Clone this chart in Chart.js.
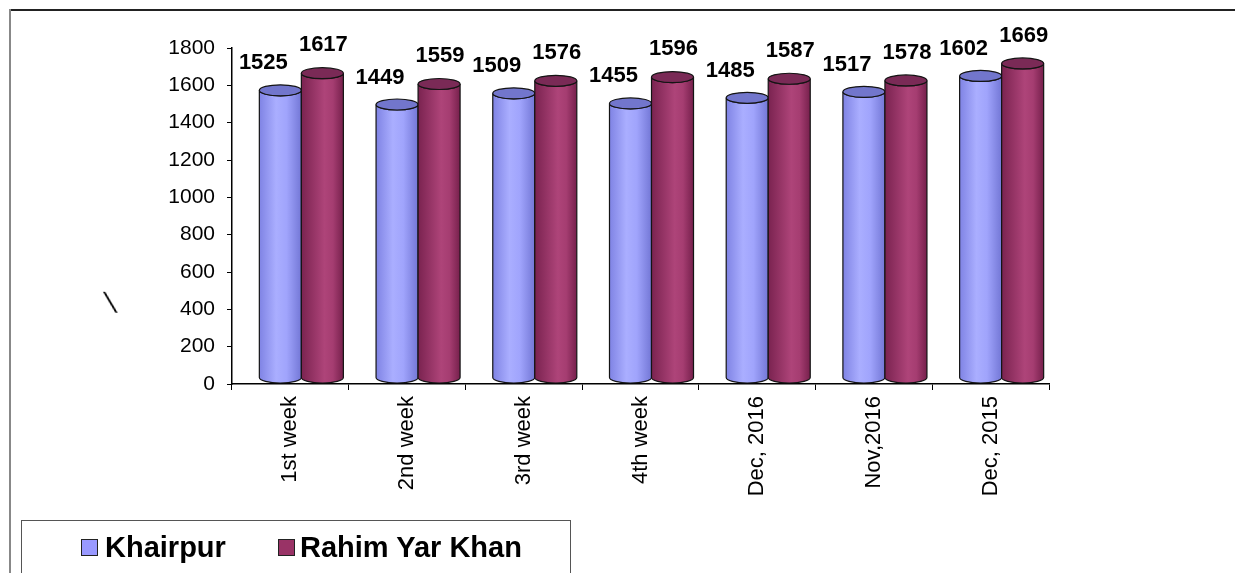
<!DOCTYPE html>
<html>
<head>
<meta charset="utf-8">
<script src="https://cdn.jsdelivr.net/npm/chart.js@4/dist/chart.umd.min.js"></script>
<style>
  html, body { margin: 0; padding: 0; background: #fff; }
  #wrap { position: relative; width: 1235px; height: 573px; overflow: hidden; font-family: "Liberation Sans", Arial, sans-serif; }
  #cnv { position: absolute; left: 0; top: 0; }
  #frameTop { position: absolute; left: 9px; top: 9px; width: 1226px; height: 2px; background: #222; }
  #frameLeft { position: absolute; left: 9px; top: 9px; width: 2px; height: 564px; background: #888; }
  #slash { position: absolute; left: 107px; top: 290px; font-size: 28px; line-height: 28px; transform: skewX(18deg); transform-origin: center center; color: #000; }
  #legend { position: absolute; left: 21px; top: 520px; width: 550px; height: 70px; border: 1px solid #555; box-sizing: border-box; }
  .sw { position: absolute; top: 18px; width: 15px; height: 15px; border: 1.5px solid #222; }
  .lt { position: absolute; top: 9px; font-weight: bold; font-size: 29px; line-height: 34px; color: #000; }
</style>
</head>
<body>
<div id="wrap">
  <canvas id="cnv" width="1235" height="573"></canvas>
  <div id="frameTop"></div>
  <div id="frameLeft"></div>
  <div id="slash">\</div>
  <div id="legend"></div>
</div>
<script>
// chart values
var categories = ['1st week', '2nd week', '3rd week', '4th week', 'Dec, 2016', 'Nov,2016', 'Dec, 2015'];
var khairpur = [1525, 1449, 1509, 1455, 1485, 1517, 1602];
var rahimYarKhan = [1617, 1559, 1576, 1596, 1587, 1578, 1669];
var seriesNames = ['Khairpur', 'Rahim Yar Khan'];
var yMin = 0, yMax = 1800, yStep = 200;

var styles = [
	{
		swatch: '#9999ff',
		stops: [[0, '#7f83e4'], [0.4, '#aaaeff'], [0.65, '#a0a4fc'], [1, '#7377d6']],
		cap: '#7276cc',
		labelDx: -6, labelDy: -36
	},
	{
		swatch: '#993366',
		stops: [[0, '#7a2350'], [0.55, '#ae4479'], [0.75, '#a53d71'], [1, '#76204c']],
		cap: '#7a2a56',
		labelDx: 12, labelDy: -37
	}
];

// depth shift of the 3d cylinders
var depthX = 11, depthTop = -9, depthBase = -6, capRy = 5.5;

function drawCylinder(ctx, el, st)
{
	var half = el.width / 2;
	var cx = el.x + depthX;
	var left = cx - half, right = cx + half;
	var top = el.y + depthTop, base = el.base + depthBase;

	var grad = ctx.createLinearGradient(left, 0, right, 0);
	st.stops.forEach(function(s) { grad.addColorStop(s[0], s[1]); });

	ctx.save();
	ctx.lineWidth = 1.2;
	ctx.strokeStyle = '#141414';
	ctx.beginPath();
	ctx.moveTo(left, top);
	ctx.lineTo(left, base);
	ctx.ellipse(cx, base, half, capRy, 0, Math.PI, 0, true);
	ctx.lineTo(right, top);
	ctx.ellipse(cx, top, half, capRy, 0, 0, Math.PI, false);
	ctx.closePath();
	ctx.fillStyle = grad;
	ctx.fill();
	ctx.stroke();

	ctx.beginPath();
	ctx.ellipse(cx, top, half, capRy, 0, 0, Math.PI * 2);
	ctx.fillStyle = st.cap;
	ctx.fill();
	ctx.stroke();
	ctx.restore();
}

var cylinders = {
	id: 'cylinders',
	afterDatasetsDraw: function(chart)
	{
		var ctx = chart.ctx;
		var metas = [chart.getDatasetMeta(0), chart.getDatasetMeta(1)];
		for (var i = 0; i < categories.length; i++)
		{
			metas.forEach(function(m, d) { drawCylinder(ctx, m.data[i], styles[d]); });
		}
		ctx.save();
		ctx.fillStyle = '#000';
		ctx.font = 'bold 22px "Liberation Sans", Arial, sans-serif';
		ctx.textAlign = 'center';
		ctx.textBaseline = 'middle';
		metas.forEach(function(m, d) {
			var vals = chart.data.datasets[d].data;
			m.data.forEach(function(el, i) {
				ctx.fillText(String(vals[i]), el.x + styles[d].labelDx, el.y + styles[d].labelDy);
			});
		});
		ctx.restore();
	}
};

var fontFamily = '"Liberation Sans", Arial, sans-serif';

var chart = new Chart(document.getElementById('cnv').getContext('2d'), {
	type: 'bar',
	data: {
		labels: categories,
		datasets: [
			{ label: seriesNames[0], data: khairpur, backgroundColor: 'rgba(0,0,0,0)', borderWidth: 0, categoryPercentage: 0.72, barPercentage: 1 },
			{ label: seriesNames[1], data: rahimYarKhan, backgroundColor: 'rgba(0,0,0,0)', borderWidth: 0, categoryPercentage: 0.72, barPercentage: 1 }
		]
	},
	options: {
		responsive: false,
		animation: false,
		devicePixelRatio: 1,
		layout: { padding: { left: 0, top: 48, right: 186, bottom: 0 } },
		plugins: { legend: { display: false }, tooltip: { enabled: false } },
		scales: {
			x: {
				afterFit: function(s) { s.height = 189; },
				grid: { offset: true, drawOnChartArea: false, drawTicks: true, tickLength: 6, color: '#000' },
				border: { color: '#000', width: 1.5 },
				ticks: { minRotation: 90, maxRotation: 90, color: '#000', padding: 6, font: { family: fontFamily, size: 22 } }
			},
			y: {
				min: yMin,
				max: yMax,
				afterFit: function(s) { s.width = 232; },
				grid: { drawOnChartArea: false, drawTicks: true, tickLength: 5, color: '#000' },
				border: { color: '#000', width: 1.5 },
				ticks: {
					stepSize: yStep, color: '#000', padding: 12,
					font: { family: fontFamily, size: 21 },
					callback: function(v) { return String(v); }
				}
			}
		}
	},
	plugins: [cylinders]
});

// legend box
var legend = document.getElementById('legend');
var legendPos = [[59, 83], [256, 278]];
seriesNames.forEach(function(name, d) {
	var sw = document.createElement('div');
	sw.className = 'sw';
	sw.style.left = legendPos[d][0] + 'px';
	sw.style.background = styles[d].swatch;
	legend.appendChild(sw);
	var t = document.createElement('div');
	t.className = 'lt';
	t.style.left = legendPos[d][1] + 'px';
	t.textContent = name;
	legend.appendChild(t);
});
</script>
</body>
</html>
